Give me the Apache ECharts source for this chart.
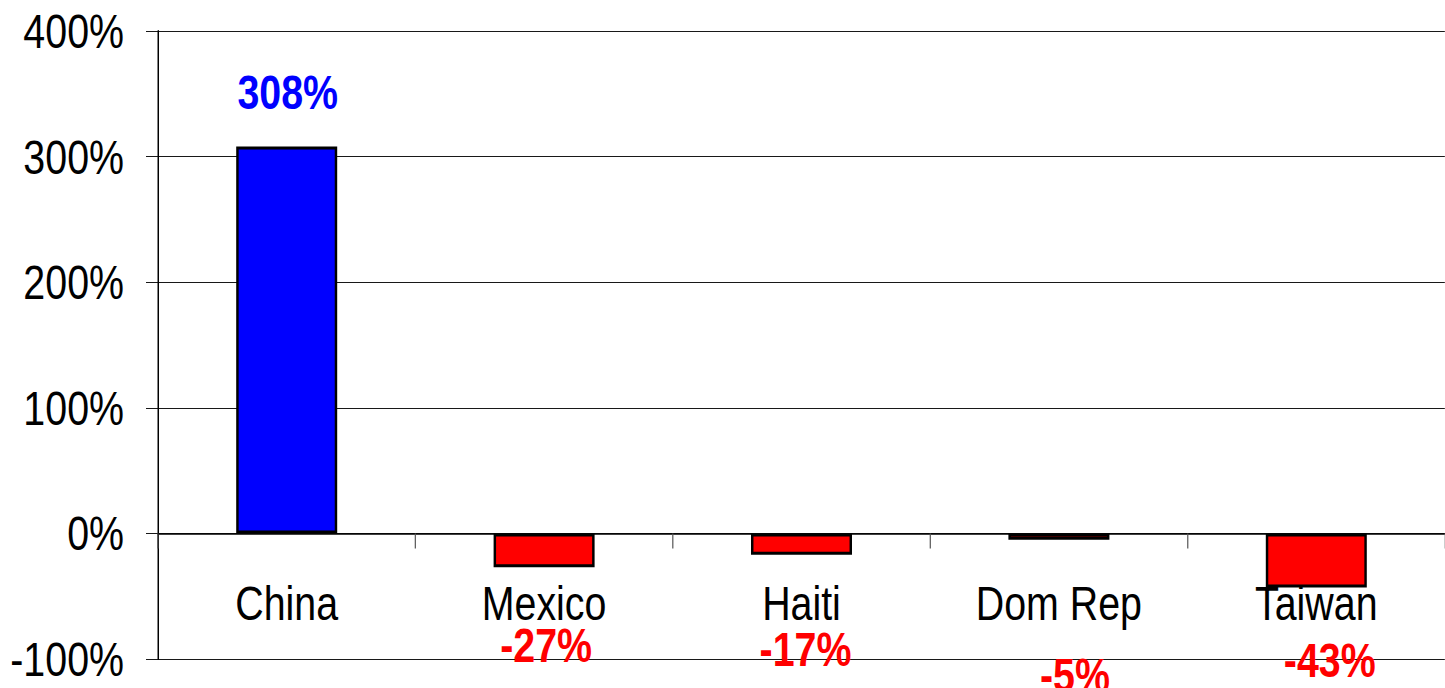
<!DOCTYPE html>
<html><head><meta charset="utf-8">
<script src="https://cdn.jsdelivr.net/npm/echarts@6/dist/echarts.min.js"></script>
<style>
html,body{margin:0;padding:0;background:#fff;overflow:hidden;width:1445px;height:688px}
#wrap{width:1445px;height:688px;overflow:hidden;position:relative}
#c{position:absolute;left:0;top:0;height:688px;transform-origin:0 0}
</style>
</head><body><div id="wrap"><div id="c"></div></div>
<script>
const categories = ['China', 'Mexico', 'Haiti', 'Dom Rep', 'Taiwan'];
const values = [308, -27, -17, -5, -43];
const yTicks = { min: -100, max: 400, interval: 100 };

// The original uses a narrow sans (Arial Narrow ≈ Arial at 82% width).
// Render with Liberation Sans on a wider canvas and squeeze horizontally.
const SX = 0.82;
const W = 1445 / SX;
const px = v => v / SX;           // convert final horizontal pixels to pre-squeeze pixels

// manual label nudges (final px) as in the original slide
const labelNudge = [[1, -26], [2, 48.5], [4, 65], [16, 106.5], [13.5, 43.5]];

const FONT = "'Liberation Sans', Arial, sans-serif";

const el = document.getElementById('c');
el.style.width = W + 'px';
el.style.transform = 'scaleX(' + SX + ')';

const data = values.map((v, i) => ({
  value: v,
  itemStyle: { color: v >= 0 ? '#0000FF' : '#FF0000' },
  label: {
    show: true,
    position: v >= 0 ? 'top' : 'bottom',
    offset: [px(labelNudge[i][0]), labelNudge[i][1]],
    formatter: v + '%',
    color: v >= 0 ? '#0000FF' : '#FF0000',
    fontFamily: FONT,
    fontWeight: 'bold',
    fontSize: 48
  }
}));

const chart = echarts.init(el, null, { renderer: 'svg', width: W, height: 688 });
chart.setOption({
  animation: false,
  grid: { left: px(158), right: 0, top: 31, bottom: 29, containLabel: false, outerBoundsMode: 'none' },
  xAxis: {
    type: 'category',
    data: categories,
    axisLine: { onZero: true, lineStyle: { color: '#000', width: 1.5 } },
    axisTick: { show: true, length: 15, interval: 0, lineStyle: { color: '#555', width: px(1.2) } },
    axisLabel: { color: '#000', fontFamily: FONT, fontSize: 48, margin: 46, interval: 0 },
    splitLine: { show: false }
  },
  yAxis: {
    type: 'value',
    min: yTicks.min, max: yTicks.max, interval: yTicks.interval,
    axisLine: { show: true, lineStyle: { color: '#000', width: px(1.5) } },
    axisTick: { show: true, length: px(12), lineStyle: { color: '#000' } },
    axisLabel: { color: '#000', fontFamily: FONT, fontSize: 48, margin: px(34), formatter: '{value}%' },
    splitLine: { show: true, lineStyle: { color: '#000', width: 1 } }
  },
  series: [{
    type: 'bar',
    data: data,
    barWidth: px(101),
    itemStyle: { borderColor: '#000', borderWidth: 3 }
  }]
});
// If the axis labels were not moved with the zero line, pull them up to it.
(function () {
  const xModel = chart.getModel().getComponent('xAxis', 0);
  const axis = xModel.axis;
  const grid = axis.grid.getRect();
  const zeroY = chart.convertToPixel({ yAxisIndex: 0 }, 0);
  const bottomY = grid.y + grid.height;
  if (Math.abs(zeroY - bottomY) > 1) {
    chart.setOption({ xAxis: { axisLabel: { margin: 46 - (bottomY - zeroY) } } });
  }
})();
</script></body></html>
